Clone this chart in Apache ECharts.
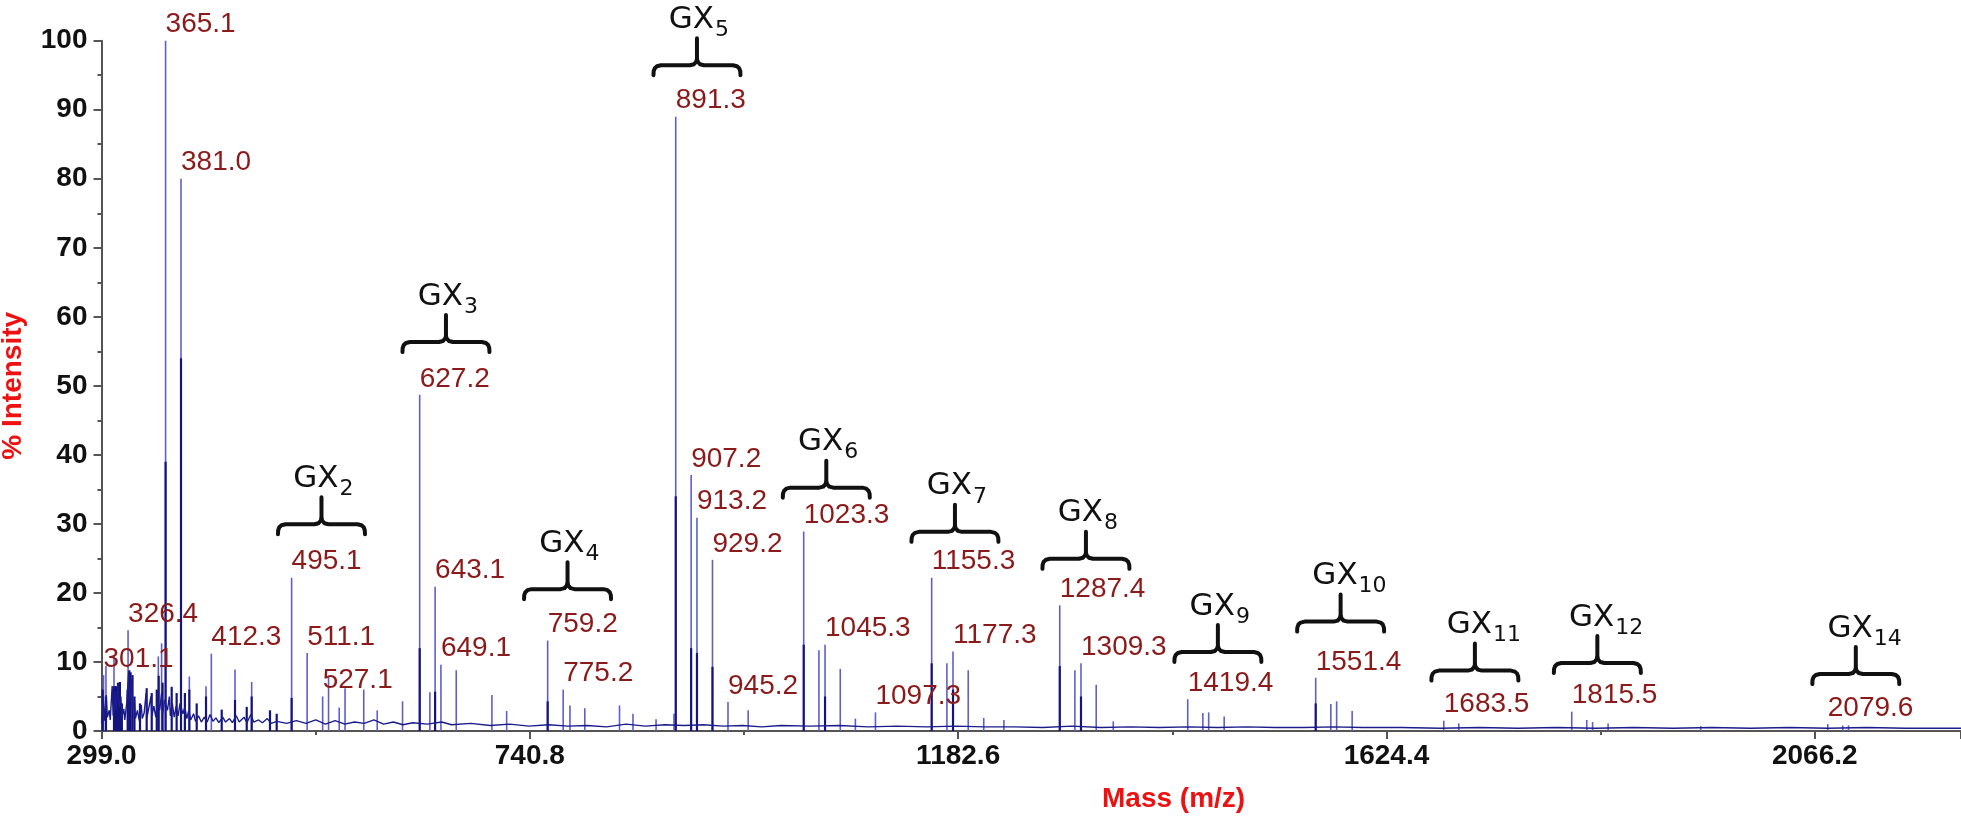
<!DOCTYPE html>
<html>
<head>
<meta charset="utf-8">
<title>GX mass spectrum</title>
<script src="https://cdn.jsdelivr.net/npm/echarts/dist/echarts.min.js"></script>
<style>
    html, body { margin: 0; padding: 0; background: #fff; }
    #chart { width: 1961px; height: 818px; }
</style>
</head>
<body>
<div id="chart"></div>
<script>
// tick labels on the mass axis
const xTickLabels = ['299.0', '740.8', '1182.6', '1624.4', '2066.2']

// centroid sticks (light blue): m/z, % intensity, label
const peakMz = [301.1, 303.6, 311.9, 326.4, 357.6, 361.0, 365.1, 381.0, 389.6, 406.8,
    412.3, 436.7, 453.9, 495.1, 511.1, 527.1, 533.2, 544.2, 550.2, 569.5,
    583.4, 609.5, 627.2, 637.7, 643.1, 649.1, 664.9, 701.7, 716.9, 759.2,
    775.2, 782.2, 797.5, 833.3, 847.2, 871.0, 889.5, 891.3, 907.2, 913.2,
    929.2, 945.2, 966.0, 1023.3, 1039.0, 1045.3, 1061.0, 1076.6, 1097.3, 1155.3,
    1171.0, 1177.3, 1193.0, 1209.0, 1229.8, 1287.4, 1303.0, 1309.3, 1325.0, 1342.6,
    1419.4, 1435.0, 1441.0, 1457.0, 1551.4, 1567.0, 1573.0, 1589.0, 1683.5, 1699.0,
    1815.5, 1831.0, 1837.0, 1853.0, 1948.5, 2079.6, 2095.0, 2101.0]
const peakTop = [8.1, 9.4, 11.0, 14.6, 10.8, 12.7, 100, 80, 7.9, 6.5,
    11.2, 8.9, 7.1, 22.2, 11.3, 5.0, 7.9, 3.4, 6.2, 6.0,
    3.0, 4.3, 48.7, 5.6, 20.9, 9.6, 8.8, 5.2, 2.9, 13.1,
    6.0, 3.7, 3.3, 3.7, 2.5, 1.7, 2.5, 89, 37.1, 30.9,
    24.8, 4.2, 3.0, 28.9, 11.7, 12.5, 9.0, 1.8, 2.7, 22.2,
    9.8, 11.5, 8.8, 1.9, 1.6, 18.2, 8.8, 9.8, 6.7, 1.4,
    4.6, 2.6, 2.7, 2.1, 7.7, 3.9, 4.3, 2.9, 1.5, 1.1,
    2.8, 1.6, 1.3, 1.1, 0.7, 1.0, 0.8, 0.8]
const peakLabel = ['301.1', '', '', '326.4', '', '', '365.1', '381.0', '', '',
    '412.3', '', '', '495.1', '511.1', '527.1', '', '', '', '',
    '', '', '627.2', '', '643.1', '649.1', '', '', '', '759.2',
    '775.2', '', '', '', '', '', '', '891.3', '907.2', '913.2',
    '929.2', '945.2', '', '1023.3', '', '1045.3', '', '', '1097.3', '1155.3',
    '', '1177.3', '', '', '', '1287.4', '', '1309.3', '', '',
    '1419.4', '', '', '', '1551.4', '', '', '', '1683.5', '',
    '1815.5', '', '', '', '', '2079.6', '', '']

// profile trace (dark navy) heights
const profileMz = [300.2, 303.6, 311.9, 314.0, 316.0, 318.0, 320.0, 326.0, 327.7, 329.0,
    331.0, 333.0, 338.7, 345.6, 350.8, 356.0, 358.0, 362.0, 365.1, 371.4,
    376.5, 381.0, 385.0, 389.6, 397.2, 406.8, 423.0, 436.7, 448.8, 453.9,
    472.8, 479.7, 495.1, 627.2, 643.1, 759.2, 891.3, 907.2, 913.2, 929.2,
    1023.3, 1045.3, 1155.3, 1177.3, 1287.4, 1309.3, 1551.4]
const profileTop = [6.0, 5.0, 6.5, 6.5, 7.0, 7.1, 4.0, 6.0, 8.8, 8.5,
    8.1, 5.0, 4.0, 6.2, 5.5, 6.0, 8.0, 7.0, 39, 6.4,
    5.5, 54, 5.5, 6.0, 4.0, 5.0, 3.1, 4.5, 3.5, 5.0,
    3.0, 2.5, 4.8, 12.0, 5.7, 4.3, 34, 12.0, 11.3, 9.3,
    12.5, 5.0, 9.8, 6.0, 9.4, 5.0, 4.0]

// baseline noise of the trace
const baseMz = [299, 300, 301, 302, 304, 305, 307, 308, 310, 311, 313, 314, 316, 317, 319, 320,
    322, 323, 325, 327, 328, 330, 331, 333, 334, 336, 338, 340, 341, 343, 345, 346,
    348, 350, 351, 353, 355, 357, 359, 361, 362, 364, 367, 369, 370, 372, 374, 376,
    378, 380, 383, 385, 387, 389, 391, 394, 396, 399, 402, 405, 408, 411, 414, 417,
    420, 424, 427, 431, 434, 438, 441, 446, 449, 453, 456, 461, 465, 470, 474, 480,
    490, 500, 510, 520, 530, 540, 550, 560, 570, 580, 590, 600, 610, 620, 635, 650,
    660, 680, 700, 720, 740, 760, 780, 800, 820, 840, 860, 880, 900, 920, 940, 960,
    980, 1000, 1030, 1060, 1090, 1120, 1150, 1180, 1210, 1240, 1270, 1300, 1330, 1360, 1390, 1420,
    1450, 1480, 1510, 1540, 1570, 1600, 1640, 1680, 1720, 1760, 1800, 1840, 1880, 1920, 1960, 2000,
    2040, 2080, 2120, 2160, 2217]
const baseLevel = [1.2, 3.0, 4.5, 1.5, 5.2, 2.0, 3.0, 1.6, 6.5, 2.2, 5.8, 3.0, 6.8, 3.5, 5.0, 2.0,
    3.2, 1.6, 4.0, 8.5, 4.2, 7.5, 3.0, 4.5, 1.8, 3.0, 1.5, 3.8, 1.8, 2.6, 5.5, 2.0,
    3.5, 5.0, 2.2, 3.6, 2.0, 4.5, 3.0, 5.5, 2.5, 4.5, 3.0, 5.0, 2.2, 4.0, 2.0, 3.6,
    2.2, 4.0, 2.5, 3.5, 1.8, 3.0, 1.6, 2.5, 1.4, 2.2, 1.3, 2.0, 1.3, 2.4, 1.4, 1.9,
    1.2, 2.0, 1.3, 1.8, 1.2, 2.2, 1.3, 2.0, 1.2, 2.4, 1.3, 1.6, 1.2, 1.8, 1.1, 1.4,
    1.1, 1.5, 1.1, 1.6, 1.0, 1.5, 1.0, 1.3, 1.1, 1.6, 1.0, 1.3, 0.9, 1.2, 1.0, 1.3,
    0.9, 1.1, 0.8, 1.0, 0.7, 0.9, 0.7, 0.8, 0.6, 1.0, 0.7, 0.9, 0.8, 0.9, 0.7, 0.8,
    0.6, 0.8, 0.7, 0.8, 0.6, 0.7, 0.6, 0.7, 0.6, 0.6, 0.5, 0.7, 0.5, 0.6, 0.5, 0.6,
    0.5, 0.6, 0.5, 0.5, 0.6, 0.5, 0.5, 0.4, 0.5, 0.4, 0.5, 0.4, 0.5, 0.4, 0.5, 0.4,
    0.5, 0.4, 0.5, 0.4, 0.4]

// GX oligomer brackets: subscript, centre m/z, bracket bottom (% intensity)
const gxSub = ['2', '3', '4', '5', '6', '7', '8', '9', '10', '11', '12', '14']
const gxMz = [525.9, 654.3, 779.7, 913.2, 1046.6, 1179.3, 1314.4, 1450.5, 1577.1, 1715.6, 1841.9, 2108.5]
const gxLevel = [28.5, 54.9, 19.1, 95.0, 33.8, 27.4, 23.5, 10.0, 14.4, 7.3, 8.4, 6.8]

const axisColor = '#555'
const labelFont = '"Liberation Sans", Arial, sans-serif'

function pairs(xs, ys) {
    return xs.map((x, i) => [x, ys[i]])
}

// vertical stick from 0 up to the value
function stick(color, width) {
    return function (params, api) {
        let top = api.coord([api.value(0), api.value(1)])
        let base = api.coord([api.value(0), 0])
        return {
            type: 'line',
            shape: { x1: top[0], y1: base[1], x2: top[0], y2: top[1] },
            style: { stroke: color, lineWidth: width }
        }
    }
}

// peak value labels, left edge at the stick
function peakText(params, api) {
    let text = peakLabel[params.dataIndex]
    if (!text) return null
    let top = api.coord([api.value(0), api.value(1)])
    return {
        type: 'text',
        x: top[0],
        y: top[1] - 2,
        style: {
            text: text,
            fill: '#8b1a1a',
            font: '28px ' + labelFont,
            align: 'left',
            verticalAlign: 'bottom'
        }
    }
}

// horizontal curly bracket with GX_n above it
function gxBracket(params, api) {
    let p = api.coord([api.value(0), api.value(1)])
    let cx = p[0], by = p[1]
    let half = [[43.5, 0], [43.3, -4], [42.2, -7], [40, -9], [36, -10],
        [7, -10], [3, -11], [0.8, -13.5], [0, -16]]
    let left = half.map(q => [cx - q[0], by + q[1]]).concat([[cx, by - 37]])
    let right = half.map(q => [cx + q[0], by + q[1]])
    let line = { stroke: '#111', lineWidth: 4, fill: null, lineJoin: 'round', lineCap: 'round' }
    return {
        type: 'group',
        children: [
            { type: 'polyline', shape: { points: left }, style: line },
            { type: 'polyline', shape: { points: right }, style: line },
            {
                type: 'text', x: cx + 17, y: by - 40,
                style: { text: 'GX', fill: '#111', font: '31px "DejaVu Sans"', align: 'right', verticalAlign: 'bottom' }
            },
            {
                type: 'text', x: cx + 18, y: by - 34,
                style: { text: gxSub[params.dataIndex], fill: '#111', font: '22px "DejaVu Sans"', align: 'left', verticalAlign: 'bottom' }
            }
        ]
    }
}

let myChart = echarts.init(document.getElementById('chart'))
let option = {
    backgroundColor: '#fff',
    animation: false,
    title: {
        text: 'Mass (m/z)',
        left: 1102,
        top: 785,
        padding: 0,
        textStyle: { color: '#ee1111', fontSize: 28, fontWeight: 'bold', fontFamily: labelFont }
    },
    grid: { left: 101.5, right: 0, top: 40.7, bottom: 87, outerBoundsMode: 'none', containLabel: false },
    xAxis: {
        type: 'value',
        min: 299,
        max: 2217,
        interval: 441.8,
        axisLine: { lineStyle: { color: axisColor, width: 2 } },
        axisTick: { length: 8, lineStyle: { color: axisColor, width: 2 } },
        minorTick: { show: true, splitNumber: 2, length: 4, lineStyle: { color: axisColor, width: 2 } },
        splitLine: { show: false },
        axisLabel: {
            margin: 11,
            color: '#111',
            fontSize: 28,
            fontWeight: 'bold',
            fontFamily: labelFont,
            formatter: v => {
                let s = v.toFixed(1)
                return xTickLabels.indexOf(s) >= 0 ? s : ''
            }
        }
    },
    yAxis: {
        type: 'value',
        min: 0,
        max: 100,
        interval: 10,
        name: '% Intensity',
        nameLocation: 'middle',
        nameGap: 74,
        nameTextStyle: { color: '#ee1111', fontSize: 28, fontWeight: 'bold', fontFamily: labelFont },
        axisLine: { show: true, lineStyle: { color: axisColor, width: 2 } },
        axisTick: { show: true, length: 8, lineStyle: { color: axisColor, width: 2 } },
        minorTick: { show: true, splitNumber: 2, length: 4, lineStyle: { color: axisColor, width: 2 } },
        splitLine: { show: false },
        axisLabel: { margin: 14, color: '#111', fontSize: 28, fontWeight: 'bold', fontFamily: labelFont }
    },
    series: [
        {
            type: 'custom',
            name: 'centroid',
            renderItem: stick('#5f5fcc', 1.6),
            encode: { x: 0, y: 1 },
            data: pairs(peakMz, peakTop),
            z: 1
        },
        {
            type: 'custom',
            name: 'profile',
            renderItem: stick('#14147f', 2.2),
            encode: { x: 0, y: 1 },
            data: pairs(profileMz, profileTop),
            z: 2
        },
        {
            type: 'line',
            name: 'baseline',
            data: pairs(baseMz, baseLevel),
            showSymbol: false,
            lineStyle: { color: '#1c1c8c', width: 1.4 },
            z: 3
        },
        {
            type: 'custom',
            name: 'labels',
            renderItem: peakText,
            encode: { x: 0, y: 1 },
            data: pairs(peakMz, peakTop),
            z: 5
        },
        {
            type: 'custom',
            name: 'gx',
            renderItem: gxBracket,
            encode: { x: 0, y: 1 },
            data: pairs(gxMz, gxLevel),
            z: 6
        }
    ]
}
myChart.setOption(option)
</script>
</body>
</html>
